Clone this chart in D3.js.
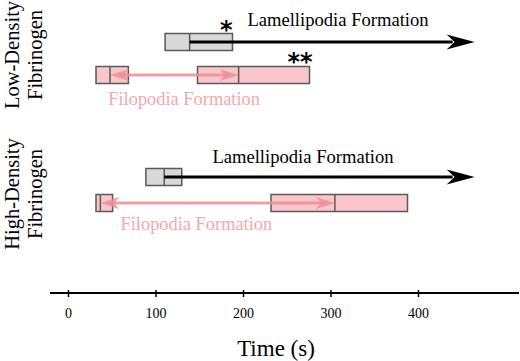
<html>
<head>
<script src="https://cdn.jsdelivr.net/npm/d3@7"></script>
<style>
  body { margin: 0; background: #fff; }
</style>
</head>
<body>
<div id="chart"></div>
<script>
// data (seconds)
const groups = ["Low-Density", "High-Density"];
const lamBox = [[111, 139, 188], [89, 110, 130]];      // min, median, max of lamellipodia onset
const lamArrowEnd = [451, 451];
const filoStartBox = [[32, 48, 69], [32, 37, 51]];     // filopodia onset
const filoEndBox = [[148, 195, 276], [232, 305, 388]]; // filopodia end
const stars = [["*", "**"], ["", ""]];
const tickValues = [0, 100, 200, 300, 400];

const width = 520, height = 361;
const serif = "'Liberation Serif', 'Times New Roman', serif";

const svg = d3.select("#chart").append("svg")
  .attr("width", width)
  .attr("height", height)
  .attr("font-family", serif);

const x = d3.scaleLinear().domain([0, 400]).range([68, 418]);

// vertical layout for each group: centre of lamellipodia row, filopodia row, text baselines
const layout = [
  {lamY: 42, filoY: 75, lamText: 205, lamTextY: 26, filoText: 46, filoTextY: 105, labelY: 55},
  {lamY: 177, filoY: 203, lamText: 165, lamTextY: 163, filoText: 60, filoTextY: 230, labelY: 194}
];
const boxH = 17;
const grey = "#d9d9d9", pinkFill = "#f9c7c9", edge = "#5a5a5a";
const pinkArrow = "#ee8d94", pinkText = "#f4a8ac";

function drawBox(g, b, cy, fill) {
  g.append("rect")
    .attr("x", x(b[0])).attr("y", cy - boxH / 2)
    .attr("width", x(b[2]) - x(b[0])).attr("height", boxH)
    .attr("fill", fill).attr("stroke", edge).attr("stroke-width", 1.5);
  g.append("line")
    .attr("x1", x(b[1])).attr("x2", x(b[1]))
    .attr("y1", cy - boxH / 2).attr("y2", cy + boxH / 2)
    .attr("stroke", edge).attr("stroke-width", 1.5);
}

function head(px, py, dir, len, half, notch) {
  // arrowhead with its tip at (px, py), pointing in dir (+1 right, -1 left)
  return `M${px},${py} L${px - dir * len},${py - half} L${px - dir * (len - notch)},${py} L${px - dir * len},${py + half} Z`;
}

groups.forEach((name, i) => {
  const L = layout[i];
  const g = svg.append("g");

  // boxes
  drawBox(g, lamBox[i], L.lamY, grey);
  drawBox(g, filoStartBox[i], L.filoY, pinkFill);
  drawBox(g, filoEndBox[i], L.filoY, pinkFill);

  // lamellipodia arrow
  const xe = x(lamArrowEnd[i]);
  g.append("line")
    .attr("x1", x(lamBox[i][1])).attr("x2", xe - 10)
    .attr("y1", L.lamY).attr("y2", L.lamY)
    .attr("stroke", "#000").attr("stroke-width", 3);
  g.append("path").attr("d", head(xe + 12, L.lamY, 1, 28, 7.5, 8)).attr("fill", "#000");

  // filopodia double arrow
  const a0 = x(filoStartBox[i][1]), a1 = x(filoEndBox[i][1]);
  g.append("line")
    .attr("x1", a0 + 10).attr("x2", a1 - 10)
    .attr("y1", L.filoY).attr("y2", L.filoY)
    .attr("stroke", pinkArrow).attr("stroke-width", 3).attr("opacity", 0.85);
  g.append("path").attr("d", head(a0, L.filoY, -1, 19, 6, 5)).attr("fill", pinkArrow).attr("opacity", 0.85);
  g.append("path").attr("d", head(a1, L.filoY, 1, 19, 6, 5)).attr("fill", pinkArrow).attr("opacity", 0.85);

  // labels
  g.append("text").attr("x", x(L.lamText)).attr("y", L.lamTextY)
    .attr("font-family", serif)
    .attr("font-size", 18.6).attr("fill", "#000").text("Lamellipodia Formation");
  g.append("text").attr("x", x(L.filoText)).attr("y", L.filoTextY)
    .attr("font-family", serif)
    .attr("font-size", 18.4).attr("fill", pinkText).text("Filopodia Formation");

  // significance stars
  const starFont = "'DejaVu Sans', sans-serif";
  if (stars[i][0]) g.append("text").attr("x", x(lamBox[i][2])).attr("y", L.lamY - boxH / 2 + 4)
    .attr("text-anchor", "end").attr("font-family", starFont)
    .attr("font-size", 24).attr("font-weight", "bold").text(stars[i][0]);
  if (stars[i][1]) g.append("text").attr("x", x(filoEndBox[i][2]) + 3).attr("y", L.filoY - boxH / 2 + 3)
    .attr("text-anchor", "end").attr("font-family", starFont)
    .attr("font-size", 24).attr("font-weight", "bold").attr("letter-spacing", 0).text(stars[i][1]);

  // group label
  const lab = g.append("text")
    .attr("transform", `translate(19,${L.labelY}) rotate(-90)`)
    .attr("text-anchor", "middle").attr("font-family", serif).attr("font-size", 20.5);
  lab.append("tspan").attr("x", 0).attr("dy", 0).text(name);
  lab.append("tspan").attr("x", 0).attr("dy", 23).text("Fibrinogen");
});

// time axis
const axisY = 293;
svg.append("line").attr("x1", 50).attr("x2", 519).attr("y1", axisY).attr("y2", axisY)
  .attr("stroke", "#000").attr("stroke-width", 2);
const axis = svg.append("g").attr("transform", `translate(0,${axisY})`)
  .call(d3.axisBottom(x).tickValues(tickValues).tickSize(4).tickPadding(11));
axis.select(".domain").remove();
axis.selectAll(".tick line").attr("y1", -3).attr("y2", 4).attr("stroke", "#000").attr("stroke-width", 1.5);
axis.selectAll(".tick text").attr("font-family", serif).attr("font-size", 14).attr("fill", "#000");

svg.append("text").attr("x", 276).attr("y", 356).attr("text-anchor", "middle")
  .attr("font-family", serif).attr("font-size", 23).text("Time (s)");
</script>
</body>
</html>
